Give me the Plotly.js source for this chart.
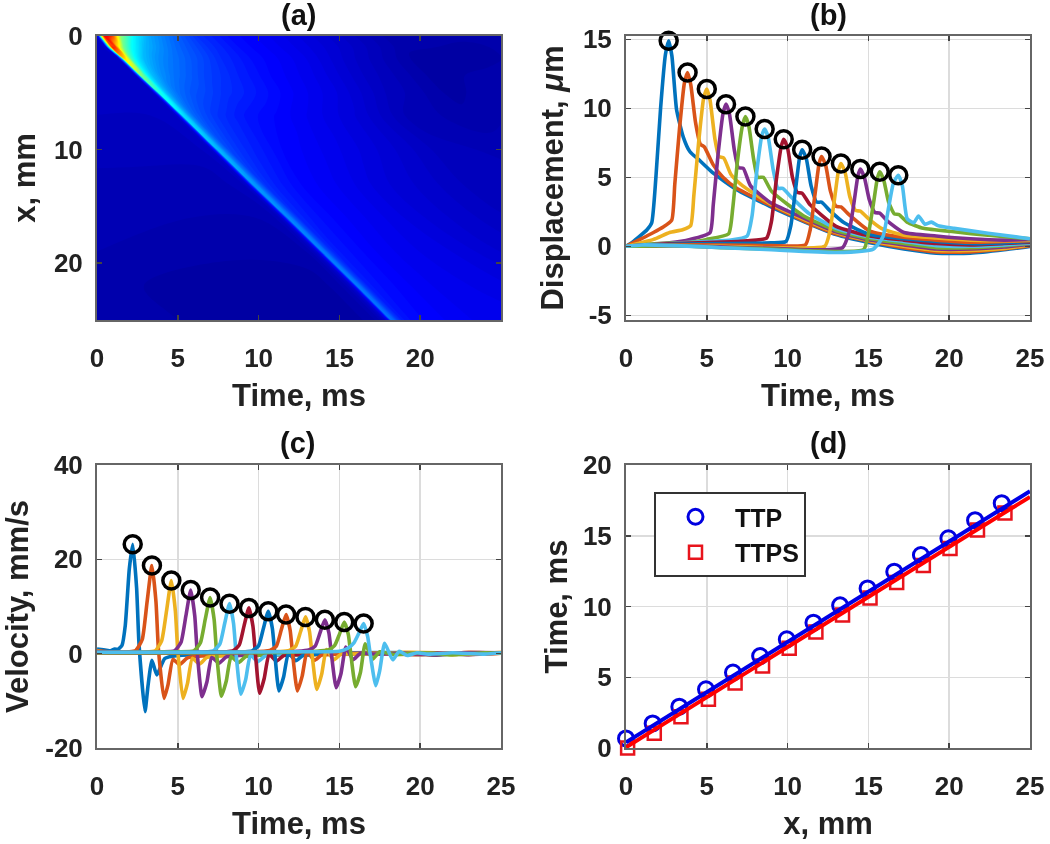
<!DOCTYPE html>
<html><head><meta charset="utf-8">
<script src="https://cdn.plot.ly/plotly-3.0.1.min.js"></script>
<style>html,body{margin:0;padding:0;background:#fff}#plot{width:1050px;height:844px;filter:blur(0.45px)}</style>
</head><body><div id="plot"></div>
<script>
// ---------- panel (a): displacement map, rows follow the wave front ----------
const depthMm = [0,1,2,3.5,5,7,10,13,16,19,22,25,27];
const arrivalMs = [0.25,0.95,1.7,2.75,3.85,5.3,7.45,9.6,11.8,13.95,16.1,18.2,19.65];
const lagMs = [-30,-6,-2,-1,-0.6,-0.35,-0.15,0,0.2,0.4,0.7,1.2,2,3,4,6,8,11,14,18,22,30];
const mapValues = [
 [-.6,-.6,-.6,-.6,-.6,-.5,1,7,13,13,12,7,4.6,3.2,2.5,1.3,.7,.2,-.3,-1,-1,-.8],
 [-.6,-.6,-.6,-.6,-.5,0,6,12.5,12,9,6.5,4.8,3.5,2.8,2.2,1.3,.7,.2,-.3,-1,-1.1,-.8],
 [-.6,-.6,-.6,-.6,-.6,-.4,3,9.5,8.5,6,4.6,3.6,2.9,2.4,2,1.2,.7,.2,-.4,-1.1,-1.1,-.8],
 [-.6,-.6,-.6,-.6,-.6,-.5,2,6.8,6,4.5,3.6,2.9,2.4,2,1.6,1.05,.6,.1,-.5,-1.1,-1,-.8],
 [-.6,-.6,-.6,-.6,-.6,-.4,1.6,5.2,4.7,3.7,2.9,2.3,1.9,1.6,1.3,.9,.5,0,-.6,-1.1,-.9,-.8],
 [-.6,-.6,-.6,-.6,-.6,-.3,1.2,4.3,3.9,3,2.2,1.8,1.4,1.1,.85,.55,.25,-.2,-.8,-1,-.8,-.8],
 [-.6,-.7,-.7,-.6,-.6,-.3,1.1,3.6,3.3,2.5,1.7,1.4,1.1,.85,.6,.35,.1,-.3,-.7,-.8,-.8,-.8],
 [-.7,-.8,-.8,-.7,-.6,-.3,1,3.1,2.9,2.2,1.4,1.1,.85,.6,.45,.2,-.1,-.4,-.7,-.7,-.7,-.7],
 [-.7,-.9,-.9,-.8,-.7,-.3,.9,2.8,2.6,1.9,1.2,.95,.75,.55,.4,.15,-.1,-.4,-.6,-.6,-.6,-.6],
 [-.7,-1,-1,-.9,-.7,-.3,.8,2.7,2.4,1.7,1.1,.85,.7,.5,.35,.15,0,-.3,-.5,-.5,-.5,-.5],
 [-.7,-1.2,-1.1,-.9,-.7,-.3,.7,2.6,2.3,1.6,1,.8,.65,.5,.35,.2,.1,-.1,-.3,-.4,-.4,-.4],
 [-.7,-1.2,-1.1,-.9,-.7,-.3,.6,2.4,2.1,1.5,.95,.75,.6,.5,.35,.25,.2,.05,-.1,-.3,-.3,-.3],
 [-.7,-1.2,-1.1,-.9,-.7,-.3,.6,2.4,2.1,1.5,.95,.75,.6,.5,.35,.25,.2,.05,-.1,-.3,-.3,-.3]
];

// ---------- panel (b): displacement, µm ----------
const dispT = [
 [0,.4,.87,1.3,1.59,1.85,2.14,2.44,2.64,2.84,3.13,3.55,3.96,4.58,5.4,6.85,8.9,11,13,15.1,17.2,19.2,21.3,23.4,25],
 [0,.87,1.7,2.3,2.83,3.02,3.31,3.61,3.81,4.01,4.3,4.6,4.85,5.4,6,6.85,8.9,11,13,15.1,17.2,19.2,21.3,23.4,25],
 [0,1.7,2.7,3.5,4,4.2,4.5,4.8,5,5.2,5.5,5.75,6.05,6.5,7.2,8.9,11,13,15.1,17.2,19.2,21.3,23.4,25],
 [0,2.7,3.96,5.2,5.4,5.7,6,6.19,6.4,6.7,6.95,7.26,7.7,8.9,11,13,15.1,17.2,19.2,21.3,23.4,25],
 [0,2,4,5,6.35,6.6,6.9,7.2,7.39,7.6,7.9,8.15,8.5,9,11,13,15.1,17.2,19.2,21.3,23.4,25],
 [0,2,5,6.5,7.5,7.8,8.1,8.4,8.58,8.8,9.1,9.4,9.7,10.2,11.3,13,15.1,17.2,19.2,21.3,23.4,25],
 [0,3,6,7.5,8.7,9,9.3,9.6,9.76,10,10.3,10.6,10.9,11.4,13,15.1,17.2,19.2,21.3,23.4,25],
 [0,3,6,9,9.9,10.2,10.5,10.75,10.9,11.15,11.45,11.8,12.1,12.6,13.5,15.1,17.2,19.2,21.3,23.4,25],
 [0,3,6,9,11.1,11.4,11.7,11.95,12.1,12.35,12.65,13,13.3,13.8,15.1,17.2,19.2,21.3,23.4,25],
 [0,3,6,9,12.3,12.6,12.9,13.15,13.3,13.55,13.85,14.2,14.5,15,15.8,17.2,19.2,21.3,23.4,25],
 [0,3,6,9,12,13.4,13.8,14.1,14.35,14.5,14.75,15.05,15.4,15.7,16.2,17.2,19.2,21.3,23.4,25],
 [0,3,6,9,12,14.7,15,15.3,15.55,15.7,15.95,16.25,16.6,16.9,17.4,18.4,20.3,22.4,25],
 [0,1,3,6,9,13,15.3,15.9,16.25,16.55,16.85,17.1,17.4,17.8,18.1,18.5,18.9,19.3,20.3,22.4,25]
];
const dispV = [
 [0,.3,.75,1.2,1.7,5,10,13.9,14.9,13.8,9.9,7.9,6.85,6.2,5.3,4.1,2.9,1.8,.85,.25,-.2,-.5,-.5,-.25,0],
 [0,.5,1,1.4,1.9,4.5,8.5,11.8,12.6,11.7,9,7.4,7.2,5.9,5,4.2,3,1.85,.9,.35,-.1,-.4,-.4,-.2,.05],
 [0,.5,1,1.2,1.5,3.7,7.6,10.7,11.4,10.6,7.8,6.5,6.4,5.2,4.4,3.1,1.95,1,.4,0,-.3,-.3,-.15,.1],
 [0,.25,.5,1,3,6.7,9.6,10.3,9.6,7,5.7,5.65,4.4,3.2,2.05,1.05,.45,.1,-.2,-.2,-.05,.15],
 [0,.2,.3,.5,.9,2.7,6.2,8.7,9.4,8.7,6.3,5,5,4,2.2,1.15,.55,.2,-.1,-.1,.05,.2],
 [0,.15,.35,.45,.75,2.2,5.5,8,8.5,7.9,5.6,4.2,4.2,3.6,2.4,1.3,.65,.35,.05,0,.1,.25],
 [0,.2,.3,.4,.6,1.8,4.8,7.2,7.75,7.1,5,3.9,3.85,3,1.45,.75,.45,.2,.1,.2,.3],
 [0,.15,.2,.25,.35,1.5,4.2,6.5,7,6.4,4.4,3.2,3.2,2.6,1.7,.85,.55,.35,.2,.25,.35],
 [0,.1,.1,.05,.1,1.2,3.8,6,6.5,5.9,4,2.9,2.85,2.3,1.1,.65,.45,.3,.35,.4],
 [0,.05,0,-.1,0,1,3.4,5.5,6,5.4,3.6,2.6,2.55,2,1.3,.8,.6,.45,.4,.45],
 [0,.05,-.05,-.15,-.25,-.1,1,3.1,5.1,5.6,5,3.4,2.45,2.4,1.8,1,.75,.55,.45,.5],
 [0,.05,-.1,-.2,-.35,-.25,.9,3,4.9,5.4,4.8,3.2,2.35,2.3,1.75,1.3,1.05,.8,.55],
 [0,.1,.05,-.1,-.25,-.45,-.2,.7,2.8,4.6,5.15,4.4,2,1.7,2.2,1.6,1.75,1.5,1.3,.95,.55]
];
const dispPeakT = [2.64,3.81,5,6.19,7.39,8.58,9.76,10.9,12.1,13.3,14.5,15.7,16.85];
const dispPeakV = [14.9,12.6,11.4,10.3,9.4,8.5,7.75,7,6.5,6,5.6,5.4,5.15];

// ---------- panel (c): velocity, mm/s ----------
const velT = [
 [0,.4,.8,1.1,1.3,1.55,1.75,2,2.21,2.45,2.6,2.97,3.15,3.4,3.7,4.2,5,7,19,21,23,25],
 [0,1,2,2.4,2.8,3.1,3.4,3.65,3.8,4.15,4.4,4.7,5.1,5.6,6.5,9,14,19,21,23,25],
 [0,1,3,3.6,4,4.3,4.6,4.85,5,5.32,5.6,5.9,6.35,6.8,8,11,16,19,21,23,25],
 [0,2,4,4.8,5.2,5.5,5.8,6.05,6.2,6.5,6.8,7.1,7.55,8,9,12,17,19,21,23,25],
 [0,3,5,6,6.4,6.7,7,7.25,7.4,7.7,8,8.3,8.75,9.2,10,13,18,20,22,24,25],
 [0,3,6,7.2,7.6,7.9,8.2,8.45,8.6,8.9,9.2,9.5,9.95,10.4,11.2,14,18,20,22,24,25],
 [0,3,7,8.4,8.8,9.1,9.4,9.65,9.8,10.06,10.35,10.65,11.1,11.55,12.4,15,19,21,23,25],
 [0,4,8,9.6,10,10.3,10.6,10.85,11,11.26,11.55,11.85,12.3,12.75,13.6,16,19,21,23,25],
 [0,4,9,10.7,11.1,11.4,11.7,11.95,12.1,12.4,12.7,13,13.45,13.9,14.8,17,20,22,24,25],
 [0,5,10,11.9,12.3,12.6,12.9,13.15,13.3,13.6,13.9,14.2,14.65,15.1,16,18,20,22,24,25],
 [0,5,11,13.1,13.5,13.8,14.1,14.35,14.5,14.8,15.1,15.4,15.85,16.3,17.2,19,21,23,25],
 [0,5,12,14.3,14.7,15,15.3,15.55,15.7,16,16.3,16.6,17.05,17.5,18.4,20,22,24,25],
 [0,6,13,15,15.5,15.9,16.2,16.5,16.75,16.9,17.25,17.5,17.8,18.3,18.7,19.2,19.8,20.5,22,24,25]
];
const velV = [
 [1,.8,.6,1,.9,1.8,6,18,23.2,14,2,-12.3,-7,-1.4,-4.5,-1,-.4,-.1,.2,-.2,.2,.1],
 [.6,.3,.4,.7,3,11,18.7,11,1,-9.5,-6.5,-1.2,-2.3,-.9,-.5,-.2,-.1,.2,-.3,.3,.1],
 [.5,.3,.3,.6,2.7,9,15.5,9,.5,-9.5,-6.3,-1,-2.2,-.8,-.4,-.2,-.1,.3,.2,-.2,.3],
 [.4,.3,.4,.6,2.4,8,13.5,8,.3,-9.1,-6,-.8,-2,-.7,-.3,-.2,.1,-.1,.2,-.2,.2],
 [.3,.3,.4,.6,2.3,7.3,11.9,7.2,.2,-9,-5.8,-.6,-1.9,-.6,-.3,-.2,.1,.2,-.2,.1,.2],
 [.3,.2,.3,.6,2,6.4,10.6,6.4,.2,-8.6,-5.5,-.3,-1.7,-.5,-.2,-.1,.2,-.2,.1,.2,.1],
 [.3,.2,.3,.6,1.8,5.9,9.7,5.8,.1,-8.4,-5.2,-.1,-1.6,-.4,-.2,-.1,.2,-.1,.2,.1],
 [.2,.2,.3,.6,1.7,5.4,9,5.4,.1,-7.9,-4.9,.1,-1.5,-.4,-.1,-.1,.2,-.2,.1,.2],
 [.2,.2,.3,.7,1.6,5,8.3,5,.1,-7.9,-4.7,.4,-1.4,-.3,-.1,.1,-.2,.2,-.1,.1],
 [.2,.2,.3,.7,1.6,4.7,7.8,4.7,.1,-7.6,-4.4,.9,-1.3,-.1,-.1,.1,.2,-.2,.2,.2],
 [.2,.2,.3,.8,1.6,4.4,7.2,4.4,.1,-7.2,-4.2,1.4,-1.3,.1,-.1,.1,-.2,.2,.2],
 [.2,.2,.3,.8,1.7,4.1,6.7,4.1,.1,-7,-4,2.1,-1.2,.4,-.2,.2,-.2,.2,.1],
 [.3,.3,.4,.5,1.1,2.3,4.3,6.4,3.6,.1,-6.8,-3.5,2.2,-1.3,.5,-.4,.2,-.1,.2,-.1,.2]
];
const velPeakT = [2.21,3.4,4.6,5.8,7,8.2,9.4,10.6,11.7,12.9,14.1,15.3,16.5];
const velPeakV = [23.2,18.7,15.5,13.5,11.9,10.6,9.7,9,8.3,7.8,7.2,6.7,6.4];

// ---------- panel (d): time to peak ----------
const ttpX  = [0,1.65,3.3,4.95,6.62,8.3,9.95,11.6,13.25,14.95,16.6,18.25,19.95,21.6,23.25];
const ttpY  = [.68,1.74,2.92,4.15,5.33,6.5,7.68,8.86,10.08,11.28,12.46,13.64,14.82,16.1,17.3];
const ttpsX = [.1,1.75,3.4,5.1,6.75,8.45,10.1,11.75,13.4,15.1,16.75,18.4,20.05,21.75,23.45];
const ttpsY = [0,1.04,2.2,3.44,4.6,5.8,7.05,8.2,9.4,10.6,11.7,12.9,14.1,15.4,16.6];
const fitX = [0,25];
const ttpFit = [.4,18.15];
const ttpsFit = [.05,17.75];

const seriesColors = ['#0072BD','#D95319','#EDB120','#7E2F8E','#77AC30','#4DBEEE','#A2142F','#0072BD','#D95319','#EDB120','#7E2F8E','#77AC30','#4DBEEE'];
const jet = [[0,'#00008f'],[.125,'#0000ff'],[.375,'#00ffff'],[.625,'#ffff00'],[.875,'#ff0000'],[1,'#800000']];

const traces = [];
const hiddenCarpetAxis = {showgrid:false,showline:false,showticklabels:'none',startline:false,endline:false,minorgridcount:0,smoothing:0,tickmode:'linear',dtick:1000,tick0:0};
// (a)
traces.push({type:'carpet',carpet:'front',xaxis:'x',yaxis:'y',
  a:lagMs,b:depthMm,
  x:arrivalMs.map(t=>lagMs.map(l=>t+l)),
  y:depthMm.map(d=>lagMs.map(()=>d)),
  aaxis:hiddenCarpetAxis,baxis:hiddenCarpetAxis
});
traces.push({type:'contourcarpet',carpet:'front',xaxis:'x',yaxis:'y',a:lagMs,b:depthMm,z:mapValues,
  autocontour:false,contours:{coloring:'fill',start:-1.5,end:15,size:.15},
  line:{width:0},colorscale:jet,zmin:-1.5,zmax:15,showscale:false,showlegend:false});
// (b)
dispT.forEach((t,i)=>traces.push({type:'scatter',mode:'lines',x:t,y:dispV[i],xaxis:'x2',yaxis:'y2',showlegend:false,
  line:{color:seriesColors[i],width:3.6,shape:'spline',smoothing:.5}}));
traces.push({type:'scatter',mode:'markers',x:dispPeakT,y:dispPeakV,xaxis:'x2',yaxis:'y2',showlegend:false,cliponaxis:false,
  marker:{symbol:'circle-open',size:17,color:'#000',line:{color:'#000',width:3.5}}});
// (c)
velT.forEach((t,i)=>traces.push({type:'scatter',mode:'lines',x:t,y:velV[i],xaxis:'x3',yaxis:'y3',showlegend:false,
  line:{color:seriesColors[i],width:3.6,shape:'spline',smoothing:.5}}));
traces.push({type:'scatter',mode:'markers',x:velPeakT,y:velPeakV,xaxis:'x3',yaxis:'y3',showlegend:false,cliponaxis:false,
  marker:{symbol:'circle-open',size:17,color:'#000',line:{color:'#000',width:3.5}}});
// (d)
traces.push({type:'scatter',mode:'markers',name:'TTP',legendgroup:'TTP',x:ttpX,y:ttpY,xaxis:'x4',yaxis:'y4',cliponaxis:false,
  marker:{symbol:'circle-open',size:15,color:'#0000e0',line:{color:'#0000e0',width:3}}});
traces.push({type:'scatter',mode:'markers',name:'TTPS',legendgroup:'TTPS',x:ttpsX,y:ttpsY,xaxis:'x4',yaxis:'y4',cliponaxis:false,
  marker:{symbol:'square-open',size:13,color:'#e8141c',line:{color:'#e8141c',width:2.5}}});
traces.push({type:'scatter',mode:'lines',x:fitX,y:ttpFit,xaxis:'x4',yaxis:'y4',showlegend:false,line:{color:'#0000e6',width:4}});
traces.push({type:'scatter',mode:'lines',x:fitX,y:ttpsFit,xaxis:'x4',yaxis:'y4',showlegend:false,line:{color:'#ff0000',width:4}});

const W=1050,H=844;
const dx=(a,b)=>[a/W,b/W], dy=(top,bot)=>[1-bot/H,1-top/H];
const tickFont={family:'"Liberation Sans",Arial,sans-serif',size:26,color:'#222',weight:700};
const titleFont={family:'"Liberation Sans",Arial,sans-serif',size:31,color:'#222',weight:700};
function ax(dom,anchor,range,vals,title,standoff,grid,labelGap){
  return {domain:dom,anchor,range,tickmode:'array',tickvals:vals,ticktext:vals.map(String),
    ticks:'inside',ticklen:5,tickwidth:1.5,tickcolor:'#444',mirror:'ticks',showline:true,linecolor:'#666',linewidth:2,
    showgrid:grid,gridcolor:'#dcdcdc',gridwidth:1.5,zeroline:false,tickfont:tickFont,automargin:false,ticklabelstandoff:labelGap,
    title:{text:title,font:titleFont,standoff}};
}
const t5=[0,5,10,15,20,25];
const layout={width:W,height:H,margin:{l:0,r:0,t:0,b:0},paper_bgcolor:'#fff',plot_bgcolor:'#fff',
 xaxis:ax(dx(97,501),'y',[0,25],[0,5,10,15,20],'Time, ms',12,false,14),
 yaxis:ax(dy(36,320),'x',[25,0],[0,10,20],'x, mm',9,false,7),
 xaxis2:ax(dx(626,1030),'y2',[0,25],t5,'Time, ms',12,true,14),
 yaxis2:ax(dy(36,320),'x2',[-5.34,15.24],[-5,0,5,10,15],'Displacement, <i>μ</i>m',10,true,7),
 xaxis3:ax(dx(97,501),'y3',[0,25],t5,'Time, ms',12,true,14),
 yaxis3:ax(dy(465,748),'x3',[-20,40],[-20,0,20,40],'Velocity, mm/s',13,true,7),
 xaxis4:ax(dx(626,1030),'y4',[0,25],t5,'x, mm',12,true,14),
 yaxis4:ax(dy(465,748),'x4',[0,20],[0,5,10,15,20],'Time, ms',6,true,7),
 showlegend:true,
 legend:{x:654/W,y:1-492/H,xanchor:'left',yanchor:'top',bgcolor:'#fff',bordercolor:'#333',borderwidth:2,
   font:{family:'"Liberation Sans",Arial,sans-serif',size:25,color:'#111',weight:700},
   traceorder:'grouped',tracegroupgap:0,itemwidth:69,entrywidth:96,entrywidthmode:'pixels',itemclick:false,itemdoubleclick:false},
 annotations:[['(a)',298,15],['(b)',828,15],['(c)',297,443],['(d)',828,443]].map(a=>({
   text:a[0],xref:'paper',yref:'paper',x:a[1]/W,y:1-a[2]/H,xanchor:'center',yanchor:'middle',showarrow:false,
   font:{family:'"Liberation Sans",Arial,sans-serif',size:29,color:'#111',weight:700}}))
};
Plotly.newPlot('plot',traces,layout,{displayModeBar:false,staticPlot:true});
</script></body></html>
